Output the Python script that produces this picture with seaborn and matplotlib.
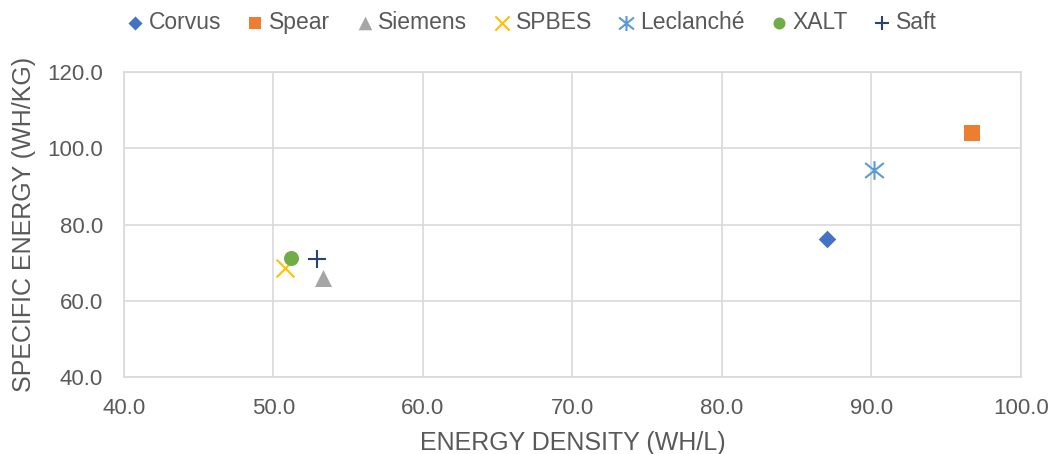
import pandas as pd
import matplotlib.pyplot as plt
from matplotlib.path import Path
import seaborn as sns

# Data
names = ["Corvus", "Spear", "Siemens", "SPBES", "Leclanché", "XALT", "Saft"]
energy_density = [87.0, 96.7, 53.3, 50.8, 90.2, 51.2, 52.9]
specific_energy = [76.3, 103.9, 65.9, 68.5, 94.3, 71.3, 71.0]

colors = ["#4472C4", "#ED7D31", "#A5A5A5", "#FFC000", "#5B9BD5", "#70AD47", "#264478"]

# Excel-style asterisk: an X with a vertical stroke through it
star = Path([(-0.5, -0.4), (0.5, 0.4), (-0.5, 0.4), (0.5, -0.4), (0, -0.5), (0, 0.5)],
            [Path.MOVETO, Path.LINETO, Path.MOVETO, Path.LINETO, Path.MOVETO, Path.LINETO])
markers = ["D", "s", "^", "x", star, "o", "+"]
sizes = [80, 125, 150, 165, 180, 117, 165]

df = pd.DataFrame({"name": names, "x": energy_density, "y": specific_energy})

sns.set_style("white")
plt.rcParams["font.family"] = ["Liberation Sans", "DejaVu Sans"]

fig, ax = plt.subplots(figsize=(10.54, 4.54), dpi=100)

for i, name in enumerate(names):
    sub = df[df["name"] == name]
    if i in (3, 4, 6):
        # stroke-only markers
        sns.scatterplot(data=sub, x="x", y="y", ax=ax, marker=markers[i], s=sizes[i],
                        color=colors[i], edgecolor=colors[i], linewidth=1.5,
                        zorder=3, legend=False)
    else:
        sns.scatterplot(data=sub, x="x", y="y", ax=ax, color=colors[i], marker=markers[i],
                        s=sizes[i], linewidth=0, zorder=3, legend=False)

ax.set_xlim(40, 100)
ax.set_ylim(40, 120)
ax.set_xticks(range(40, 101, 10))
ax.set_yticks(range(40, 121, 20))
ax.xaxis.set_major_formatter(plt.FormatStrFormatter("%.1f"))
ax.yaxis.set_major_formatter(plt.FormatStrFormatter("%.1f"))
ax.grid(True, color="#D9D9D9", linewidth=1.2)
ax.set_axisbelow(True)
for sp in ax.spines.values():
    sp.set_color("#D9D9D9")
    sp.set_linewidth(1.2)
ax.tick_params(axis="both", labelsize=16, colors="#595959", length=0, pad=15)
ax.set_xlabel("ENERGY DENSITY (WH/L)", fontsize=18, color="#595959", labelpad=9)
ax.set_ylabel("SPECIFIC ENERGY (WH/KG)", fontsize=18, color="#595959", labelpad=8)

handles = ax.collections
leg = fig.legend(handles, names, loc="center", bbox_to_anchor=(0.502, 0.95), ncol=7,
                 frameon=False, fontsize=16.5, handletextpad=0.0, columnspacing=0.9,
                 markerscale=0.8, handlelength=1.2)
for t in leg.get_texts():
    t.set_color("#595959")

fig.subplots_adjust(left=0.1176, right=0.9687, top=0.8414, bottom=0.1696)
fig.savefig("out.png", dpi=100)
